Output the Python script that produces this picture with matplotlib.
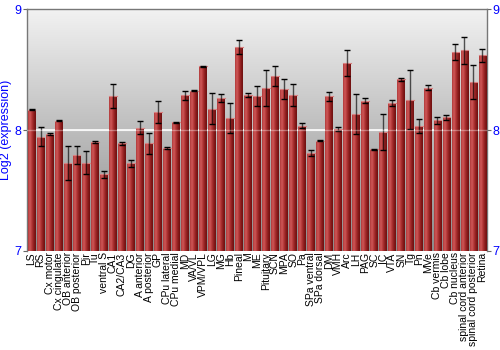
import numpy as np
import matplotlib
matplotlib.use("Agg")
import matplotlib.pyplot as plt
from matplotlib.colors import LinearSegmentedColormap

regions = ["LS", "RS", "Cx motor", "Cx cingulate", "OB anterior", "OB posterior", "Pir", "Tu",
           "ventral S", "CA1", "CA2/CA3", "DG", "A anterior", "A posterior", "GP", "CPu lateral",
           "CPu medial", "MD", "VA/VL", "VPM/VPL", "LG", "MG", "Hb", "Pineal", "M", "ME",
           "Pituitary", "SCN", "MPA", "SO", "Pa", "SPa ventral", "SPa dorsal", "DM", "VMH", "Arc",
           "LH", "PAG", "SC", "IC", "VTA", "SN", "Tg", "Pn", "MVe", "Cb vermis", "Cb lobe",
           "Cb nucleus", "spinal cord anterior", "spinal cord posterior", "Retina"]
expr = [8.168, 7.945, 7.967, 8.077, 7.725, 7.79, 7.73, 7.90,
        7.633, 8.28, 7.89, 7.725, 8.02, 7.89, 8.15, 7.85,
        8.066, 8.286, 8.325, 8.526, 8.176, 8.264, 8.10, 8.686, 8.29, 8.28,
        8.347, 8.446, 8.339, 8.29, 8.035, 7.81, 7.912, 8.278, 8.008, 8.554,
        8.132, 8.242, 7.84, 7.983, 8.223, 8.418, 8.25, 8.03, 8.35, 8.08, 8.107,
        8.645, 8.658, 8.40, 8.617]
err = [0.005, 0.08, 0.01, 0.005, 0.14, 0.075, 0.095, 0.01,
       0.03, 0.10, 0.015, 0.027, 0.053, 0.087, 0.093, 0.006,
       0.004, 0.04, 0.004, 0.004, 0.128, 0.03, 0.127, 0.058, 0.015, 0.085,
       0.147, 0.08, 0.083, 0.088, 0.02, 0.025, 0.006, 0.04, 0.02, 0.11,
       0.167, 0.02, 0.004, 0.15, 0.022, 0.016, 0.244, 0.058, 0.02, 0.03, 0.02,
       0.066, 0.109, 0.14, 0.052]

plt.rcParams['font.family'] = ['Liberation Sans', 'DejaVu Sans']

fig = plt.figure(figsize=(5, 3.5), dpi=100)
ax = fig.add_axes([0.054, 0.283, 0.92, 0.691])
x = np.arange(len(regions))
n = len(regions)

# background gradient
bg = LinearSegmentedColormap.from_list("bg", ["#8c8c8c", "#bdbdbd", "#f2f2f2"])
ax.imshow(np.linspace(0, 1, 256).reshape(-1, 1), extent=[-0.5, n - 0.5, 7, 9],
          aspect="auto", origin="lower", cmap=bg, zorder=0)
ax.axhline(8, color="white", lw=1.2, zorder=1)

bars = ax.bar(x, [v - 7 for v in expr], bottom=7, width=0.86, color="#a83030", zorder=2)
barcm = LinearSegmentedColormap.from_list("bar", ["#b03a3a", "#d05858", "#b03535", "#8a1c1c", "#6e1010"])
grad = np.linspace(0, 1, 64).reshape(1, -1)
for b in bars:
    im = ax.imshow(grad, extent=[b.get_x(), b.get_x() + b.get_width(), 7, 7 + b.get_height()],
                   aspect="auto", cmap=barcm, zorder=3)
    im.set_clip_path(b)
    ax.plot([b.get_x(), b.get_x() + b.get_width()], [7 + b.get_height()] * 2,
            color="#d88080", lw=0.8, zorder=3.5)

# error lines (semi-transparent) and solid caps
ax.errorbar(x, expr, yerr=err, fmt="none", ecolor="black", elinewidth=1.0, alpha=0.65,
            capsize=0, zorder=4)
caps = ax.errorbar(x, expr, yerr=err, fmt="none", ecolor="black", capsize=2.2, capthick=1.0,
                   zorder=5)
for lc in caps[2]:
    lc.set_visible(False)
ax.axhline(8, color="white", lw=1.0, alpha=0.35, zorder=6)
ax.set_xlim(-0.5, n - 0.5)
ax.set_ylim(7, 9)

ax.set_xticks(x)
ax.set_xticklabels(regions, rotation=90, fontsize=7.5)
ax.tick_params(axis="x", length=0, pad=1)
ax.set_yticks([7, 8, 9])
ax.tick_params(axis="y", labelcolor="blue", labelsize=9, color="#666666", length=3, pad=1,
               labelright=True, right=True)
ax.set_ylabel("Log2 (expression)", color="blue", fontsize=9, labelpad=2)
for s in ["left", "right", "top"]:
    ax.spines[s].set_color("#777777")
    ax.spines[s].set_linewidth(1.0)
ax.spines["bottom"].set_visible(False)

fig.savefig("out.png", dpi=100)
